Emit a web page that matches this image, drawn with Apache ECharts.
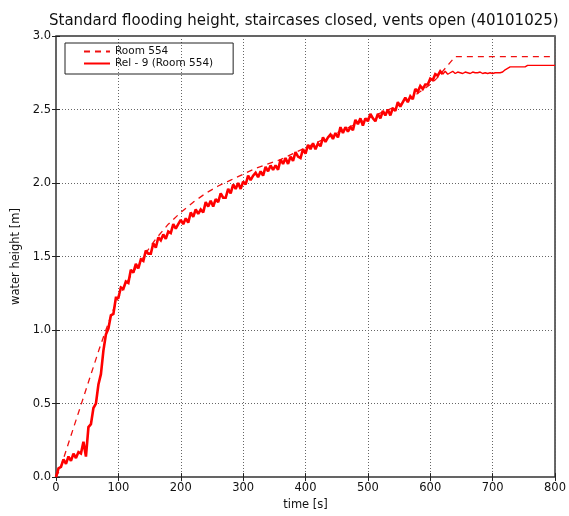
<!DOCTYPE html>
<html>
<head>
<meta charset="utf-8">
<script src="https://cdn.jsdelivr.net/npm/echarts@6/dist/echarts.min.js"></script>
<style>
  html, body { margin: 0; padding: 0; background: #fff; }
  #chart { width: 569px; height: 516px; }
</style>
</head>
<body>
<div id="chart"></div>
<script>
// Simulated water level in room 554 (time [s], height [m])
const roomTime = [0, 5, 10, 20, 30, 40, 50, 60, 70, 80, 90, 100, 110, 120, 140, 160, 180, 200,
  220, 240, 260, 280, 300, 320, 340, 360, 380, 400, 450, 500, 550, 580, 600, 610, 620, 630, 640, 800];
const roomHeight = [0.00, 0.04, 0.10, 0.23, 0.36, 0.49, 0.62, 0.75, 0.88, 1.00, 1.12, 1.22, 1.30, 1.37,
  1.50, 1.62, 1.72, 1.80, 1.87, 1.93, 1.98, 2.02, 2.06, 2.10, 2.13, 2.16, 2.20, 2.24, 2.34, 2.44,
  2.53, 2.61, 2.67, 2.71, 2.76, 2.81, 2.86, 2.86];

// Measured level, sensor Rel - 9, sampled every 4 s from t = 0
const REL_STEP = 4;
const relHeight = [
  0.00, 0.06, 0.07, 0.12, 0.09, 0.14, 0.11, 0.16, 0.13, 0.17,
  0.16, 0.24, 0.14, 0.34, 0.36, 0.47, 0.50, 0.63, 0.70, 0.86,
  0.97, 1.01, 1.10, 1.11, 1.22, 1.22, 1.29, 1.28, 1.33, 1.32,
  1.41, 1.39, 1.45, 1.42, 1.48, 1.47, 1.54, 1.52, 1.52, 1.59,
  1.56, 1.63, 1.61, 1.65, 1.62, 1.67, 1.66, 1.72, 1.69, 1.72,
  1.75, 1.72, 1.76, 1.73, 1.80, 1.77, 1.82, 1.79, 1.82, 1.80,
  1.87, 1.84, 1.88, 1.84, 1.89, 1.87, 1.93, 1.90, 1.90, 1.96,
  1.93, 1.99, 1.96, 2.00, 1.96, 2.01, 1.99, 2.05, 2.02, 2.05,
  2.07, 2.04, 2.08, 2.05, 2.11, 2.08, 2.12, 2.09, 2.12, 2.09,
  2.16, 2.13, 2.17, 2.13, 2.18, 2.15, 2.21, 2.18, 2.17, 2.23,
  2.20, 2.26, 2.23, 2.27, 2.23, 2.27, 2.25, 2.31, 2.28, 2.31,
  2.33, 2.30, 2.34, 2.31, 2.38, 2.34, 2.38, 2.35, 2.38, 2.36,
  2.43, 2.40, 2.44, 2.39, 2.44, 2.42, 2.47, 2.44, 2.42, 2.47,
  2.44, 2.49, 2.46, 2.50, 2.46, 2.51, 2.49, 2.55, 2.52, 2.55,
  2.58, 2.55, 2.59, 2.57, 2.64, 2.62, 2.66, 2.64, 2.67, 2.67,
  2.71, 2.70, 2.74, 2.73, 2.76, 2.74, 2.76, 2.74, 2.75, 2.76,
  2.745, 2.755, 2.75, 2.745, 2.755, 2.75, 2.745, 2.755, 2.75, 2.75,
  2.755, 2.745, 2.75, 2.745, 2.75, 2.745, 2.75, 2.75, 2.75, 2.755,
  2.77, 2.78, 2.79, 2.79, 2.79, 2.79, 2.79, 2.79, 2.79, 2.80,
  2.80, 2.80, 2.80, 2.80, 2.80, 2.80, 2.80, 2.80, 2.80, 2.80,
  2.80
];
const relTime = relHeight.map((_, i) => i * REL_STEP);
// Sample index where the filling phase ends and the level settles (t = 620 s)
const SETTLE_INDEX = 155;

const xTicks = { min: 0, max: 800, interval: 100 };
const yTicks = { min: 0, max: 3, interval: 0.5 };

const FONT = 'DejaVu Sans';
const chart = echarts.init(document.getElementById('chart'), null, { renderer: 'canvas' });

const gridLine = { show: true, lineStyle: { color: '#666', width: 1, type: [1, 2] } };
const tick = { show: true, inside: true, length: 4, lineStyle: { color: '#222', width: 1 } };
const relPairs = relTime.map((t, i) => [t, relHeight[i]]);

chart.setOption({
  animation: false,
  backgroundColor: '#fff',
  textStyle: { fontFamily: FONT },
  title: {
    text: 'Standard flooding height, staircases closed, vents open (40101025)',
    left: 44, top: 9,
    textStyle: { fontFamily: FONT, fontSize: 15, fontWeight: 'normal', color: '#111' }
  },
  grid: {
    left: 56, right: 12, top: 36, bottom: 30,
    show: true, borderColor: '#333', borderWidth: 1.5, backgroundColor: 'transparent'
  },
  legend: {
    orient: 'vertical',
    left: 65, top: 43,
    padding: [3, 20, 5, 18],
    itemGap: 1,
    itemWidth: 26, itemHeight: 10,
    itemStyle: { opacity: 0 },
    borderColor: '#222', borderWidth: 1,
    textStyle: { fontFamily: FONT, fontSize: 10.5, color: '#111', lineHeight: 10 },
    data: ['Room 554', 'Rel - 9 (Room 554)']
  },
  xAxis: [{
    type: 'value', position: 'bottom',
    min: xTicks.min, max: xTicks.max, interval: xTicks.interval,
    name: 'time [s]', nameLocation: 'middle', nameGap: 14,
    nameTextStyle: { fontFamily: FONT, fontSize: 11.5, color: '#111' },
    axisLine: { show: false },
    axisTick: tick,
    axisLabel: { fontFamily: FONT, fontSize: 11.5, color: '#111', margin: 5 },
    splitLine: gridLine
  }, {
    type: 'value', position: 'top',
    min: xTicks.min, max: xTicks.max, interval: xTicks.interval,
    axisLine: { show: false }, axisTick: tick,
    axisLabel: { show: false }, splitLine: { show: false }
  }],
  yAxis: [{
    type: 'value', position: 'left',
    min: yTicks.min, max: yTicks.max, interval: yTicks.interval,
    name: 'water height [m]', nameLocation: 'middle', nameGap: 27, nameRotate: 90,
    nameTextStyle: { fontFamily: FONT, fontSize: 11.5, color: '#111' },
    axisLine: { show: false },
    axisTick: tick,
    axisLabel: { fontFamily: FONT, fontSize: 11.5, color: '#111', margin: 5,
      formatter: v => v.toFixed(1) },
    splitLine: gridLine
  }, {
    type: 'value', position: 'right',
    min: yTicks.min, max: yTicks.max, interval: yTicks.interval,
    axisLine: { show: false }, axisTick: tick,
    axisLabel: { show: false }, splitLine: { show: false }
  }],
  series: [{
    name: 'Room 554',
    type: 'line',
    symbol: 'none',
    data: roomTime.map((t, i) => [t, roomHeight[i]]),
    lineStyle: { color: '#f01010', width: 1.3, type: [6, 5] },
    itemStyle: { color: '#f01010' },
    z: 2
  }, {
    // filling phase: noisy signal drawn as a thick trace
    name: 'Rel - 9 (Room 554)',
    type: 'line',
    symbol: 'none',
    sampling: null,
    data: relPairs.slice(0, SETTLE_INDEX + 1),
    lineStyle: { color: '#ff0000', width: 2.6, join: 'miter', miterLimit: 2 },
    itemStyle: { color: '#ff0000' },
    z: 3
  }, {
    // settled phase
    name: 'Rel - 9 (Room 554)',
    type: 'line',
    symbol: 'none',
    sampling: null,
    data: relPairs.slice(SETTLE_INDEX),
    lineStyle: { color: '#ff0000', width: 1.4 },
    itemStyle: { color: '#ff0000' },
    z: 3
  }]
});
</script>
</body>
</html>
